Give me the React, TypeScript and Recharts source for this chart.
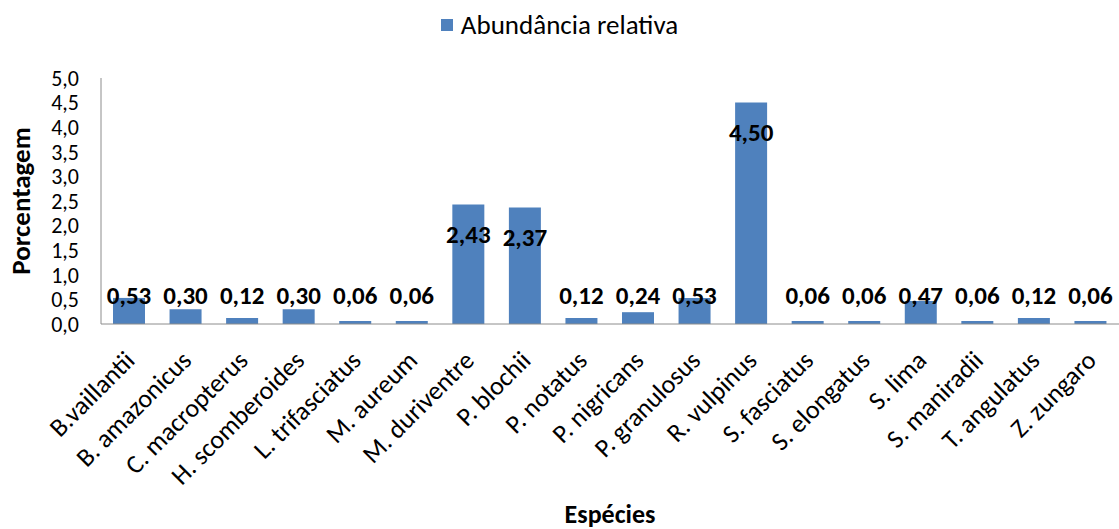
import { Bar, BarChart, Label, LabelList, Legend, XAxis, YAxis } from "recharts";

const FONT = "Carlito, Calibri, Lato, sans-serif";
const BLUE = "#4F81BD";
const AXIS_GRAY = "#8C8C8C";

const SPECIES = [
  "B.vaillantii",
  "B. amazonicus",
  "C. macropterus",
  "H. scomberoides",
  "L. trifasciatus",
  "M. aureum",
  "M. duriventre",
  "P. blochii",
  "P. notatus",
  "P. nigricans",
  "P. granulosus",
  "R. vulpinus",
  "S. fasciatus",
  "S. elongatus",
  "S. lima",
  "S. maniradii",
  "T. angulatus",
  "Z. zungaro",
];

const ABUNDANCE = [
  0.53, 0.3, 0.12, 0.3, 0.06, 0.06, 2.43, 2.37, 0.12, 0.24, 0.53, 4.5, 0.06,
  0.06, 0.47, 0.06, 0.12, 0.06,
];

const Y_TICKS = [0, 0.5, 1, 1.5, 2, 2.5, 3, 3.5, 4, 4.5, 5];

const data = SPECIES.map((name, i) => ({ name, value: ABUNDANCE[i] }));

const comma = (v: number, digits: number) => v.toFixed(digits).replace(".", ",");

function SpeciesTick({ x, y, payload }: any) {
  const tx = x + 7;
  const ty = y + 30;
  return (
    <text
      x={tx}
      y={ty}
      transform={`rotate(-45, ${tx}, ${ty})`}
      textAnchor="end"
      fontFamily={FONT}
      fontSize={26}
      fill="#000"
    >
      {payload.value}
    </text>
  );
}

// Excel-style "inside end" label; short bars push it up above the baseline
function ValueLabel({ x, y, width, height, value }: any) {
  const bottom = y + height;
  const cy = Math.min(y + 30, bottom - 29);
  return (
    <text
      x={x + width / 2}
      y={cy}
      textAnchor="middle"
      dominantBaseline="central"
      fontFamily={FONT}
      fontWeight="bold"
      fontSize={25}
      fill="#000"
    >
      {comma(Number(value), 2)}
    </text>
  );
}

function LegendBox() {
  return (
    <div
      style={{
        height: 68,
        display: "flex",
        justifyContent: "center",
        alignItems: "flex-start",
        paddingTop: 0,
        boxSizing: "border-box",
      }}
    >
      <span style={{ display: "inline-flex", alignItems: "center", gap: 8 }}>
        <span style={{ width: 12, height: 12, background: BLUE, display: "inline-block" }} />
        <span style={{ fontFamily: FONT, fontSize: 27, color: "#000", lineHeight: "30px" }}>
          Abundância relativa
        </span>
      </span>
    </div>
  );
}

function YTitle({ viewBox }: any) {
  const cx = 20;
  const cy = viewBox.y + viewBox.height / 2;
  return (
    <text
      x={cx}
      y={cy}
      transform={`rotate(-90, ${cx}, ${cy})`}
      textAnchor="middle"
      dominantBaseline="central"
      fontFamily={FONT}
      fontWeight="bold"
      fontSize={27}
      fill="#000"
    >
      Porcentagem
    </text>
  );
}

export default function App() {
  return (
    <div style={{ position: "absolute", left: 0, top: 0, background: "#fff" }}>
      <BarChart
        width={1119}
        height={529}
        data={data}
        margin={{ top: 10, right: 0, bottom: 0, left: 0 }}
      >
        <Legend verticalAlign="top" align="center" content={<LegendBox />} />
        <XAxis
          dataKey="name"
          interval={0}
          height={205}
          tickLine={false}
          axisLine={{ stroke: AXIS_GRAY }}
          tick={<SpeciesTick />}
        >
          <Label
            value="Espécies"
            position="insideBottom"
            offset={6}
            fontFamily={FONT}
            fontWeight="bold"
            fontSize={26}
            fill="#000"
          />
        </XAxis>
        <YAxis
          width={101}
          domain={[0, 5]}
          ticks={Y_TICKS}
          interval={0}
          tickLine={false}
          tickSize={0}
          tickMargin={22}
          axisLine={{ stroke: AXIS_GRAY }}
          tick={{ fontFamily: FONT, fontSize: 22, fill: "#000" }}
          tickFormatter={(v: number) => comma(v, 1)}
        >
          <Label content={<YTitle />} />
        </YAxis>
        <Bar dataKey="value" fill={BLUE} barSize={32} isAnimationActive={false}>
          <LabelList dataKey="value" content={<ValueLabel />} />
        </Bar>
      </BarChart>
    </div>
  );
}
